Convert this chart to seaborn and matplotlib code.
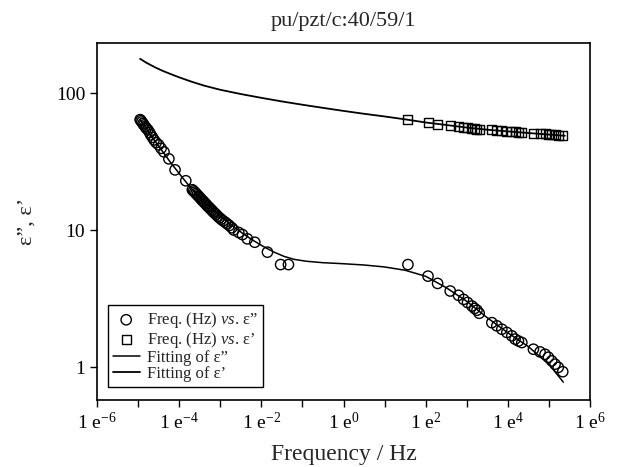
import numpy as np
import pandas as pd
import seaborn as sns
import matplotlib.pyplot as plt
from matplotlib.ticker import FixedLocator, FixedFormatter, NullLocator

# measured data: frequency (Hz) and loss / permittivity
freq_low = [1.12e-5, 1.17e-5, 1.23e-5, 1.32e-5, 1.38e-5, 1.48e-5, 1.58e-5,
            1.74e-5, 1.91e-5, 2.04e-5, 2.24e-5, 2.45e-5, 2.75e-5, 3.16e-5,
            3.63e-5, 4.27e-5, 5.62e-5, 7.94e-5, 1.45e-4, 2.09e-4, 2.24e-4,
            2.40e-4, 2.57e-4, 2.75e-4, 2.95e-4, 3.16e-4, 3.39e-4, 3.63e-4,
            3.89e-4, 4.17e-4, 4.47e-4, 4.79e-4, 5.13e-4, 5.50e-4, 5.89e-4,
            6.31e-4, 6.76e-4, 7.24e-4, 7.94e-4, 8.71e-4, 9.55e-4, 1.05e-3,
            1.17e-3, 1.32e-3, 1.48e-3, 1.66e-3, 1.91e-3, 2.14e-3, 2.82e-3,
            3.47e-3, 4.57e-3, 6.92e-3, 1.41e-2, 2.95e-2, 4.57e-2]
eps2_low = [64, 63, 61.5, 60, 58.5, 57, 55.5, 53.8, 51.5, 49.5, 47.5, 45.5,
            43.5, 41.9, 39.5, 37.2, 33.1, 27.5, 22.9, 19.7, 19.3, 18.9, 18.5,
            18.1, 17.7, 17.3, 16.9, 16.5, 16.2, 15.8, 15.5, 15.1, 14.8, 14.5,
            14.2, 13.9, 13.6, 13.3, 13.0, 12.6, 12.3, 12.0, 11.7, 11.4, 11.1,
            10.8, 10.4, 10.0, 9.6, 9.27, 8.63, 8.15, 6.9, 5.6, 5.6]

freq_high = [37, 114, 195, 396, 630, 836, 1045, 1340, 1550, 1770, 2010, 4080,
             5400, 7150, 9460, 12500, 15000, 18100, 21900, 41900, 60800,
             80500, 96800, 117000, 141000, 169000, 217000]
eps2_high = [5.6, 4.61, 4.08, 3.59, 3.34, 3.12, 2.96, 2.79, 2.68, 2.60, 2.47,
             2.11, 2.0, 1.89, 1.79, 1.69, 1.60, 1.55, 1.51, 1.35, 1.29, 1.24,
             1.18, 1.11, 1.05, 0.995, 0.925]
eps1_high = [63.7, 60.8, 59.1, 57.5, 56.9, 56.0, 55.6, 55.2, 54.8, 54.6, 54.4,
             53.8, 53.2, 52.9, 52.6, 52.3, 52.1, 51.9, 51.7, 50.9, 50.6, 50.3,
             50.1, 49.8, 49.5, 49.2, 48.7]

# fitted curves
fit2_freq = [1.12e-5, 2.0e-5, 3.55e-5, 6.31e-5, 1.12e-4, 2.0e-4, 3.55e-4,
             6.31e-4, 1.12e-3, 2.0e-3, 3.55e-3, 6.31e-3, 1.12e-2, 2.0e-2,
             3.55e-2, 6.31e-2, 0.126, 0.316, 1, 3.16, 10, 31.6, 100, 316,
             1000, 3160, 1e4, 3.16e4, 1e5, 2.24e5]
fit2_val = [64.0, 49.5, 39.1, 30.9, 24.8, 20.0, 16.8, 14.3, 12.3, 10.7, 9.44,
            8.41, 7.59, 6.92, 6.43, 6.11, 5.92, 5.78, 5.68, 5.56, 5.38, 5.09,
            4.60, 3.80, 3.02, 2.29, 1.78, 1.41, 1.05, 0.776]
fit1_freq = [1.12e-5, 1.58e-5, 2.51e-5, 3.98e-5, 6.31e-5, 1e-4, 2e-4, 3.98e-4,
             1e-3, 3.16e-3, 1e-2, 3.16e-2, 0.1, 0.316, 1, 3.16, 10, 31.6, 100,
             316, 1000, 3160, 1e4, 3.16e4, 1e5, 2.45e5]
fit1_val = [177.8, 166.7, 154.9, 145.2, 137.4, 130.3, 121.1, 113.5, 105.7,
            98.4, 92.3, 86.9, 82.2, 78.0, 74.1, 70.6, 67.5, 64.3, 61.0, 58.5,
            56.0, 54.0, 52.5, 51.1, 49.8, 48.8]

circles = pd.DataFrame({'freq': freq_low + freq_high,
                        'eps': eps2_low + eps2_high})
squares = pd.DataFrame({'freq': freq_high, 'eps': eps1_high})
fit2 = pd.DataFrame({'freq': fit2_freq, 'eps': fit2_val})
fit1 = pd.DataFrame({'freq': fit1_freq, 'eps': fit1_val})

sns.set_style('ticks')
plt.rcParams['font.family'] = ['Liberation Serif', 'DejaVu Serif']
plt.rcParams['mathtext.fontset'] = 'custom'
plt.rcParams['mathtext.rm'] = 'Liberation Serif'
plt.rcParams['mathtext.it'] = 'Liberation Serif:italic'

fig = plt.figure(figsize=(6.21, 4.67), dpi=100)
ax = fig.add_axes([97 / 621, 1 - 400 / 467, 493 / 621, 357 / 467])

sns.scatterplot(data=circles, x='freq', y='eps', ax=ax, marker='o', s=55,
                facecolor='none', edgecolor='black', linewidth=1,
                label=r'Freq. (Hz) $\it{vs.}\,$ε”')
sns.scatterplot(data=squares, x='freq', y='eps', ax=ax, marker='s', s=42,
                facecolor='none', edgecolor='black', linewidth=1,
                label=r'Freq. (Hz) $\it{vs.}\,$ε’')
sns.lineplot(data=fit2, x='freq', y='eps', ax=ax, color='black', lw=1.1,
             sort=False, estimator=None, label='Fitting of ε”')
sns.lineplot(data=fit1, x='freq', y='eps', ax=ax, color='black', lw=1.3,
             sort=False, estimator=None, label='Fitting of ε’')

ax.set_xscale('log')
ax.set_yscale('log')
ax.set_xlim(1e-6, 1e6)
ax.set_ylim(0.575, 232)

xt = [10.0 ** k for k in range(-6, 7)]
xl = [r'1 e$^{%d}$' % k if k % 2 == 0 else '' for k in range(-6, 7)]
ax.xaxis.set_major_locator(FixedLocator(xt))
ax.xaxis.set_major_formatter(FixedFormatter(xl))
ax.xaxis.set_minor_locator(NullLocator())
ax.yaxis.set_major_locator(FixedLocator([1, 10, 100]))
ax.yaxis.set_major_formatter(FixedFormatter(['1', '10', '100']))
ax.yaxis.set_minor_locator(NullLocator())
ax.tick_params(direction='out', length=5, width=1, labelsize=14,
               colors='black')

for sp in ax.spines.values():
    sp.set_visible(True)
    sp.set_linewidth(1.2)
    sp.set_color('black')

ax.set_xlabel('Frequency / Hz', fontsize=17, labelpad=8)
ax.set_ylabel('ε”, ε’', fontsize=16, labelpad=14)
ax.set_title('pu/pzt/c:40/59/1', fontsize=16, pad=12)

leg = ax.legend(loc='lower left', bbox_to_anchor=(0.022, 0.036),
                borderaxespad=0, fontsize=12, frameon=True, fancybox=False,
                framealpha=1, edgecolor='black', handlelength=1.6,
                handletextpad=0.45, labelspacing=0.0, borderpad=0.3,
                scatterpoints=1)
leg.get_frame().set_linewidth(1)

plt.savefig('out.png', dpi=100)
